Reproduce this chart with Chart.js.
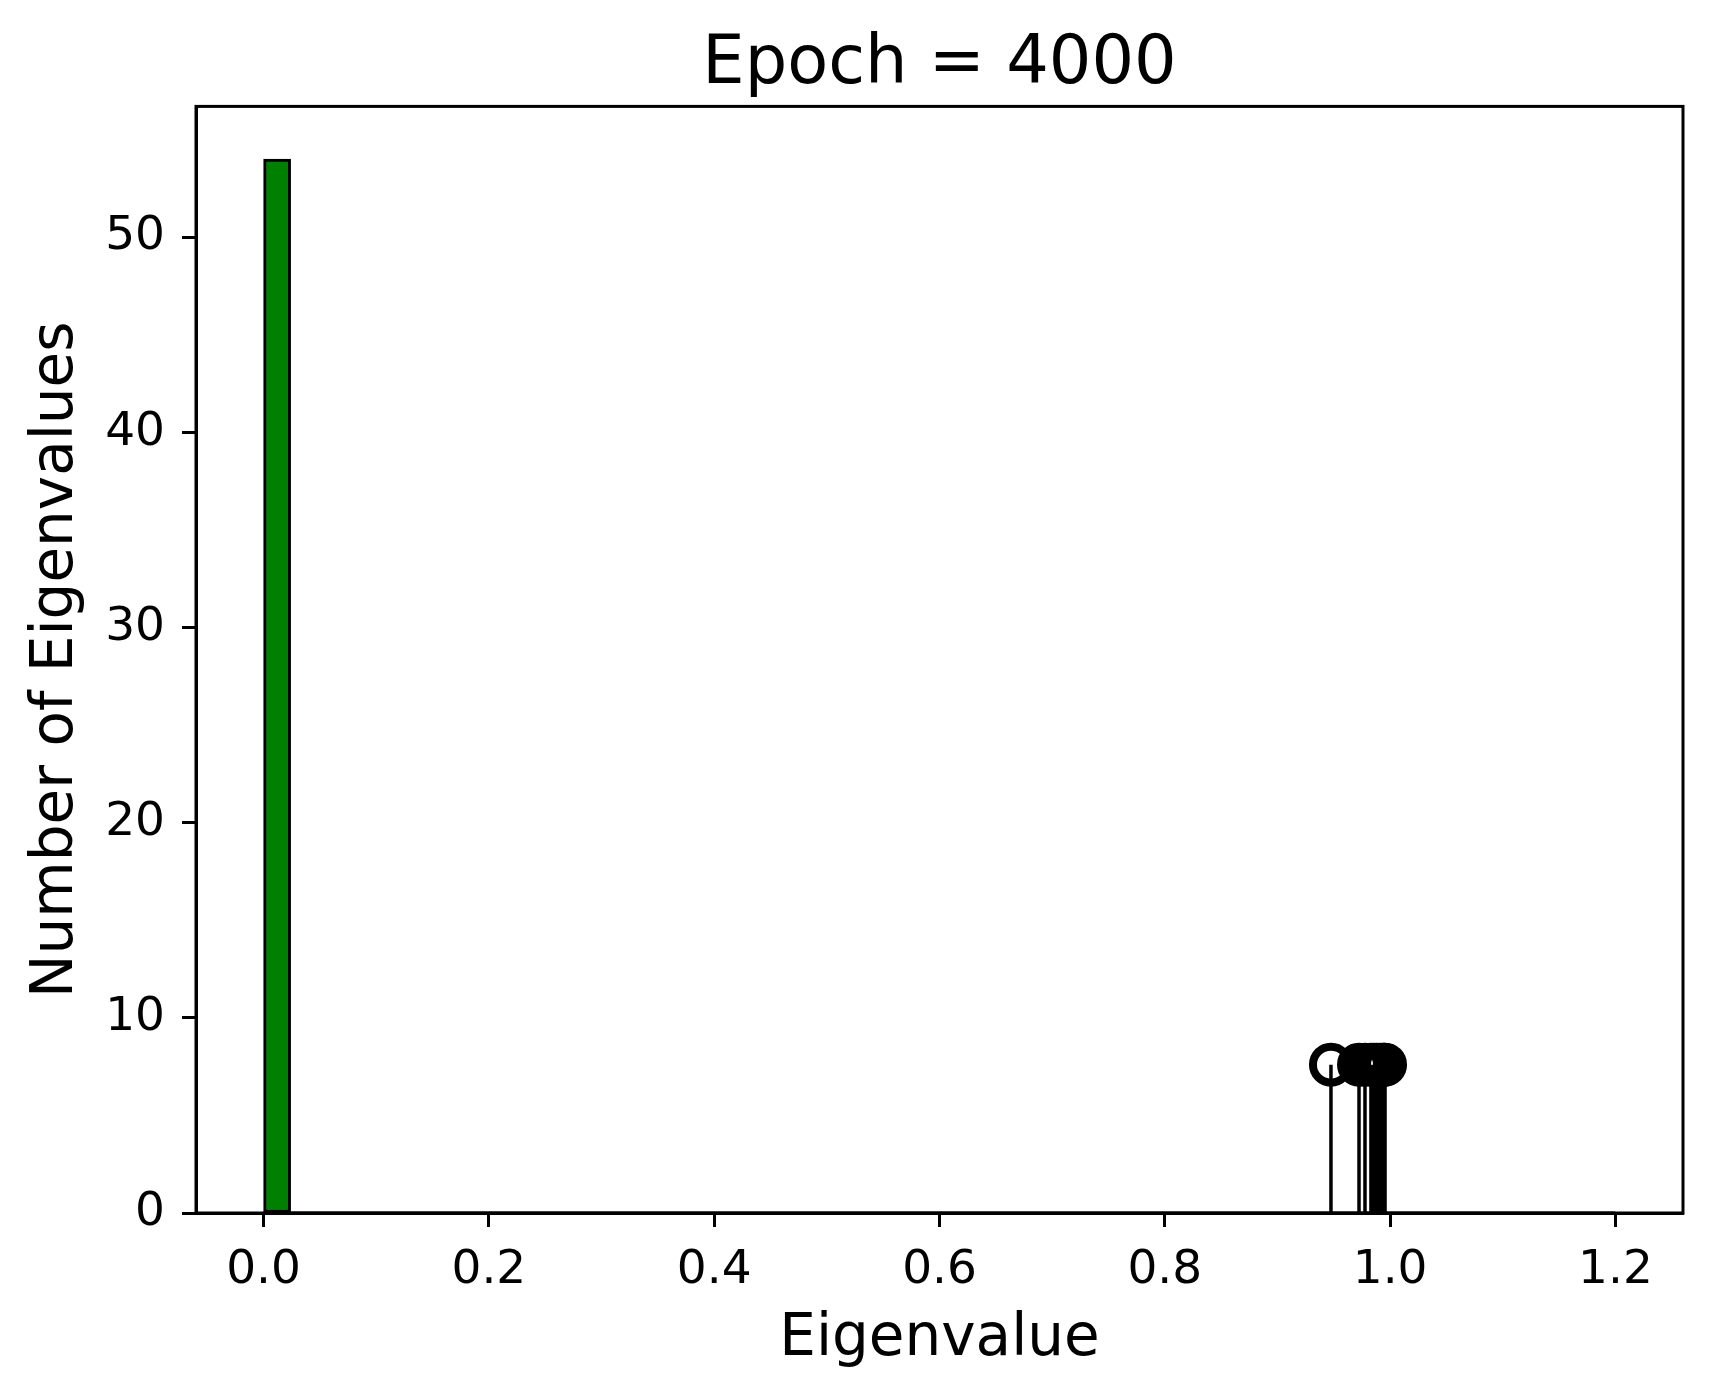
<!DOCTYPE html>
<html>
<head>
<meta charset="utf-8">
<title>Epoch = 4000</title>
<script src="https://cdn.jsdelivr.net/npm/chart.js@4.4.1/dist/chart.umd.min.js"></script>
<style>
html, body { margin: 0; padding: 0; background: #fff; }
</style>
</head>
<body>
<canvas id="myChart" width="1714" height="1396"></canvas>
<script>
'use strict';

// histogram: 50 bins from 0 to 1.2
var binStart = 0;
var binWidth = 0.024;
var binCounts = [
  54, 0, 0, 0, 0, 0, 0, 0, 0, 0,
  0, 0, 0, 0, 0, 0, 0, 0, 0, 0,
  0, 0, 0, 0, 0, 0, 0, 0, 0, 0,
  0, 0, 0, 0, 0, 0, 0, 0, 0, 0,
  0, 0, 0, 0, 0, 0, 0, 0, 0, 0
];

// stems (eigenvalues near 1)
var stemX = [0.9475, 0.9724, 0.9777, 0.9830, 0.9857, 0.9884, 0.9910, 0.9937, 0.9946, 0.9955];
var stemY = [7.6, 7.6, 7.6, 7.6, 7.6, 7.6, 7.6, 7.6, 7.6, 7.6];

var xTicks = [0, 0.2, 0.4, 0.6, 0.8, 1.0, 1.2];
var yTicks = [0, 10, 20, 30, 40, 50];

var FONT = "'DejaVu Sans', 'Liberation Sans', sans-serif";

// build datasets
var histData = binCounts.map(function(c, i) {
  return { x: binStart + binWidth * (i + 0.5), y: c };
});
var binEnd = binStart + binWidth * binCounts.length;
var baseData = [{ x: binStart, y: 0 }, { x: binEnd, y: 0 }];

var stemLines = [];
stemX.forEach(function(x, i) {
  stemLines.push({ x: x, y: 0 });
  stemLines.push({ x: x, y: stemY[i] });
  stemLines.push({ x: x, y: null });
});
var stemHeads = stemX.map(function(x, i) {
  return { x: x, y: stemY[i] };
});

//frame round the plot area (top and right spines)
var framePlugin = {
  id: 'frame',
  afterDatasetsDraw: function(chart) {
    var a = chart.chartArea;
    var ctx = chart.ctx;
    ctx.save();
    ctx.strokeStyle = '#000';
    ctx.lineWidth = 3;
    ctx.strokeRect(a.left, a.top, a.right - a.left, a.bottom - a.top);
    ctx.restore();
  }
};

var ctx = document.getElementById('myChart').getContext('2d');

var chart = new Chart(ctx, {
  type: 'bar',
  data: {
    datasets: [
      {
        type: 'scatter',
        data: stemHeads,
        showLine: false,
        pointRadius: 18,
        pointHoverRadius: 18,
        pointBorderWidth: 8,
        pointHoverBorderWidth: 8,
        pointBorderColor: '#000',
        pointBackgroundColor: 'rgba(0,0,0,0)',
        order: 0
      },
      {
        type: 'line',
        data: stemLines,
        borderColor: '#000',
        borderWidth: 3.5,
        pointRadius: 0,
        spanGaps: false,
        order: 1
      },
      {
        type: 'line',
        data: baseData,
        borderColor: '#000',
        borderWidth: 3,
        pointRadius: 0,
        order: 2
      },
      {
        type: 'bar',
        data: histData,
        backgroundColor: '#008000',
        borderColor: '#000',
        borderWidth: 3,
        borderSkipped: false,
        barPercentage: 1,
        categoryPercentage: 1,
        grouped: false,
        order: 3
      }
    ]
  },
  plugins: [framePlugin],
  options: {
    responsive: false,
    animation: false,
    devicePixelRatio: 1,
    layout: { padding: { left: 0, right: 31, top: 0, bottom: 0 } },
    plugins: {
      legend: { display: false },
      tooltip: { enabled: false },
      title: {
        display: true,
        text: 'Epoch = 4000',
        fullSize: false,
        color: '#000',
        font: { family: FONT, size: 67, weight: 'normal' },
        padding: { top: 25, bottom: 1 }
      }
    },
    scales: {
      x: {
        type: 'linear',
        position: 'bottom',
        offset: false,
        min: -0.06,
        max: 1.26,
        afterBuildTicks: function(scale) {
          scale.ticks = xTicks.map(function(v) { return { value: v }; });
        },
        afterFit: function(scale) {
          scale.height = 183;
        },
        ticks: {
          color: '#000',
          font: { family: FONT, size: 47 },
          padding: 16,
          maxRotation: 0,
          autoSkip: false,
          callback: function(v) { return Number(v).toFixed(1); }
        },
        grid: {
          offset: false,
          drawOnChartArea: false,
          drawTicks: true,
          tickLength: 14,
          tickWidth: 3,
          tickColor: '#000'
        },
        border: { display: true, color: '#000', width: 3 },
        title: {
          display: true,
          text: 'Eigenvalue',
          color: '#000',
          font: { family: FONT, size: 58 },
          padding: { top: 0, bottom: 21 }
        }
      },
      y: {
        type: 'linear',
        position: 'left',
        min: 0,
        max: 56.7,
        afterBuildTicks: function(scale) {
          scale.ticks = yTicks.map(function(v) { return { value: v }; });
        },
        afterFit: function(scale) {
          scale.width = 196;
        },
        ticks: {
          color: '#000',
          font: { family: FONT, size: 47 },
          padding: 17,
          autoSkip: false
        },
        grid: {
          drawOnChartArea: false,
          drawTicks: true,
          tickLength: 14,
          tickWidth: 3,
          tickColor: '#000'
        },
        border: { display: true, color: '#000', width: 3 },
        title: {
          display: true,
          text: 'Number of Eigenvalues',
          color: '#000',
          font: { family: FONT, size: 58 },
          padding: { top: 22, bottom: 0 }
        }
      }
    }
  }
});
</script>
</body>
</html>
